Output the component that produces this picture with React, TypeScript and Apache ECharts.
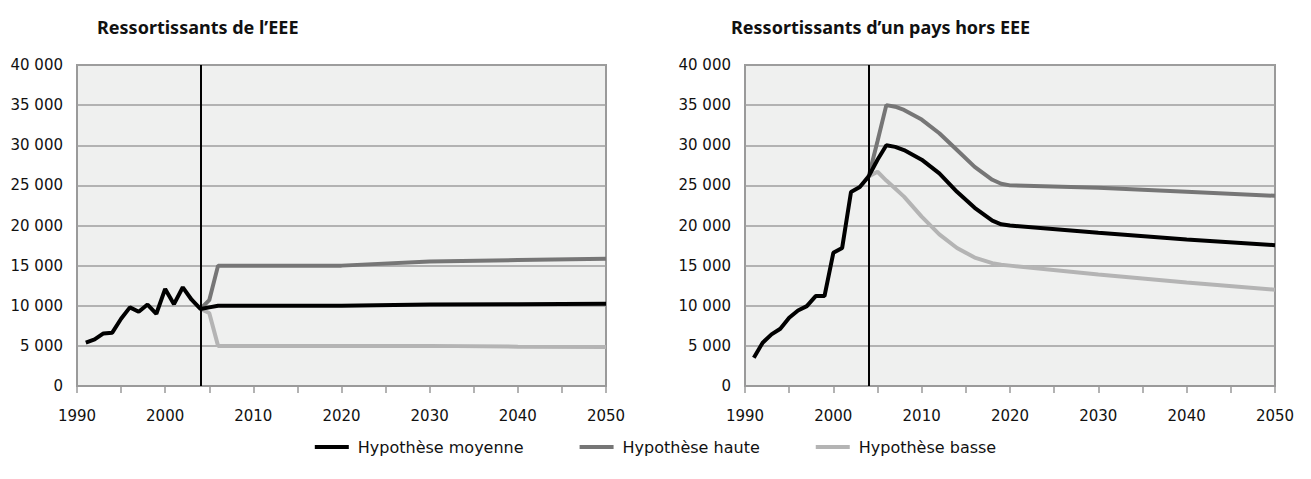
import React, { useEffect, useRef } from "react";
import * as echarts from "echarts";

const histYears = [1991, 1992, 1993, 1994, 1995, 1996, 1997, 1998, 1999, 2000, 2001, 2002, 2003, 2004];
const eeeHist = [5400, 5800, 6550, 6650, 8380, 9800, 9250, 10150, 9000, 12100, 10200, 12300, 10750, 9600];
const horsHist = [3530, 5400, 6430, 7140, 8500, 9410, 9950, 11200, 11200, 16590, 17210, 24180, 24800, 26120];

const eeeProjYears = [2004, 2005, 2006, 2020, 2030, 2040, 2050];
const eeeMoy = [9600, 9800, 10000, 10000, 10150, 10200, 10250];
const eeeHaute = [9600, 10700, 15000, 15000, 15500, 15700, 15850];
const eeeBasse = [9600, 9100, 5000, 5000, 5000, 4900, 4850];

const horsProjYears = [2004, 2005, 2006, 2007, 2008, 2010, 2012, 2014, 2016, 2018, 2019, 2020, 2030, 2040, 2050];
const horsMoy = [26120, 28200, 30000, 29800, 29400, 28200, 26500, 24200, 22200, 20600, 20150, 20000, 19100, 18250, 17550];
const horsHaute = [26120, 30500, 35000, 34800, 34400, 33200, 31500, 29400, 27300, 25700, 25200, 25000, 24700, 24200, 23700];
const horsBasse = [26120, 26700, 25600, 24600, 23600, 21100, 18900, 17200, 16000, 15300, 15100, 15000, 13900, 12900, 12000];

const titles = ["Ressortissants de l\u2019EEE", "Ressortissants d\u2019un pays hors EEE"];
const seriesNames = ["Hypothèse moyenne", "Hypothèse haute", "Hypothèse basse"];
const colors = ["#000000", "#767676", "#b4b4b4"];
const splitYear = 2004;

const zip = (xs: number[], ys: number[]) => xs.map((x, i) => [x, ys[i]]);
const fmt = (v: number) => String(v).replace(/\B(?=(\d{3})+(?!\d))/g, " ");
const FONT = "DejaVu Sans";

export default function App() {
  const ref = useRef<HTMLDivElement>(null);
  useEffect(() => {
    if (!ref.current) return;
    const chart = echarts.init(ref.current, null, { renderer: "svg" });
    const grids = [
      { left: 77, width: 529, top: 65, height: 321 },
      { left: 745, width: 530, top: 65, height: 321 },
    ];
    const xAxis = grids.map((_, i) => ({
      type: "value",
      gridIndex: i,
      min: 1990,
      max: 2050,
      interval: 5,
      axisLine: { show: true, lineStyle: { color: "#9a9a9a", width: 2 } },
      axisTick: { show: true, length: 7, lineStyle: { color: "#9a9a9a", width: 1.5 } },
      splitLine: { show: false },
      axisLabel: {
        margin: 22,
        color: "#111",
        fontFamily: FONT,
        fontSize: 15,
        formatter: (v: number) => (v % 10 === 0 ? String(v) : ""),
      },
    }));
    const yAxis = grids.map((_, i) => ({
      type: "value",
      gridIndex: i,
      min: 0,
      max: 40000,
      interval: 5000,
      axisLine: { show: false },
      axisTick: { show: false },
      splitLine: { show: true, lineStyle: { color: "#9e9e9e", width: 1.5 } },
      axisLabel: {
        margin: 14,
        color: "#111",
        fontFamily: FONT,
        fontSize: 15,
        formatter: (v: number) => fmt(v),
      },
    }));
    const mk = (name: string, idx: number, data: number[][], color: string, z: number, withMark = false) => ({
      type: "line",
      name,
      xAxisIndex: idx,
      yAxisIndex: idx,
      data,
      showSymbol: false,
      symbol: "none",
      z,
      lineStyle: { color, width: 4 },
      itemStyle: { color },
      markLine: withMark
        ? {
            silent: true,
            symbol: "none",
            label: { show: false },
            lineStyle: { color: "#000", width: 2, type: "solid" },
            data: [{ xAxis: splitYear }],
          }
        : undefined,
    });
    const sets = [
      { hist: eeeHist, py: eeeProjYears, moy: eeeMoy, h: eeeHaute, b: eeeBasse },
      { hist: horsHist, py: horsProjYears, moy: horsMoy, h: horsHaute, b: horsBasse },
    ];
    const series: any[] = [];
    sets.forEach((s, i) => {
      series.push(mk(seriesNames[1], i, zip(s.py, s.h), colors[1], 2));
      series.push(mk(seriesNames[2], i, zip(s.py, s.b), colors[2], 2));
      const moyData = zip(histYears, s.hist).concat(zip(s.py.slice(1), s.moy.slice(1)));
      series.push(mk(seriesNames[0], i, moyData, colors[0], 3, true));
    });
    const titleStyle = { fontFamily: "Noto Sans", fontWeight: "bold", fontSize: 18, color: "#111" };
    chart.setOption({
      animation: false,
      backgroundColor: "#ffffff",
      title: [
        { text: titles[0], left: 92, top: 13, textStyle: titleStyle },
        { text: titles[1], left: 726, top: 13, textStyle: titleStyle },
      ],
      grid: grids.map((g) => ({
        ...g,
        show: true,
        backgroundColor: "#eff0ef",
        borderColor: "#9a9a9a",
        borderWidth: 2,
        containLabel: false,
      })),
      legend: {
        data: seriesNames.map((n, i) => ({ name: n, itemStyle: { color: colors[i] } })),
        left: "center",
        top: 434,
        icon: "rect",
        itemWidth: 34,
        itemHeight: 4,
        itemGap: 56,
        textStyle: { fontFamily: FONT, fontSize: 16, color: "#111", padding: [0, 0, 0, 4] },
      },
      xAxis,
      yAxis,
      series,
    });
    return () => chart.dispose();
  }, []);
  return (
    <div
      ref={ref}
      style={{ position: "absolute", left: 0, top: 0, width: 1311, height: 479 }}
    />
  );
}
